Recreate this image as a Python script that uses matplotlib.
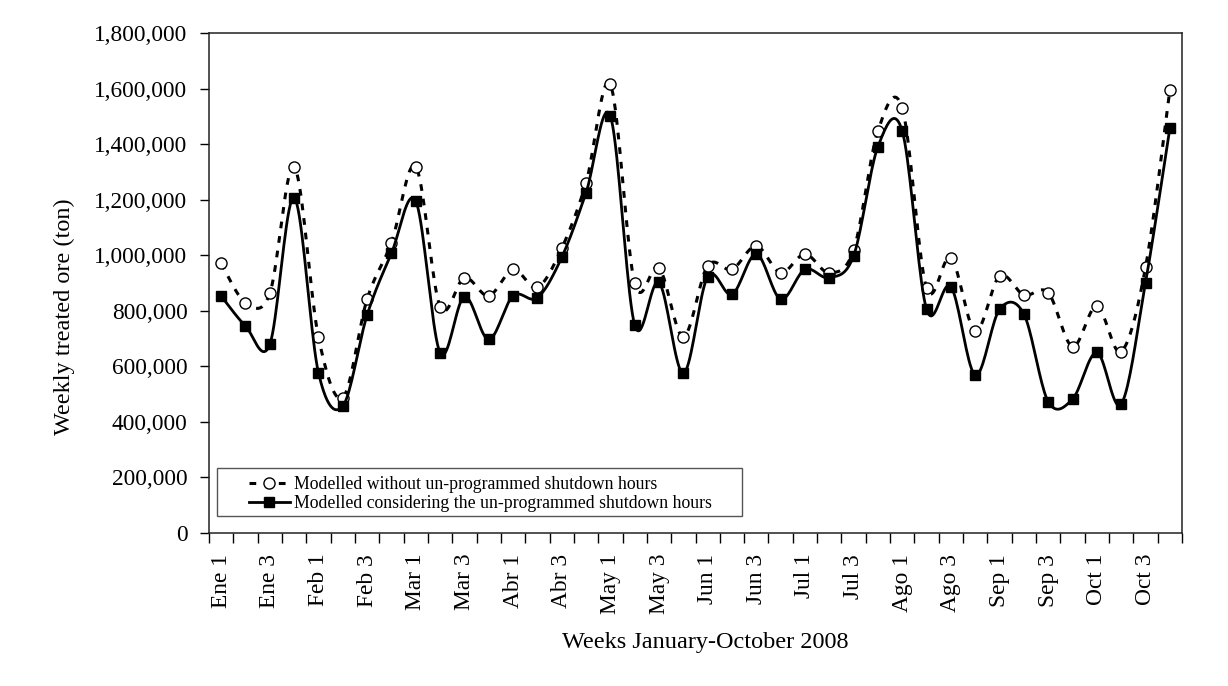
import numpy as np
import matplotlib
matplotlib.use("Agg")
import matplotlib.pyplot as plt
from matplotlib.ticker import FuncFormatter, FixedLocator
from matplotlib.patches import Rectangle

# ---- data ----
week_labels = ["Ene 1", "Ene 3", "Feb 1", "Feb 3", "Mar 1", "Mar 3", "Abr 1", "Abr 3",
               "May 1", "May 3", "Jun 1", "Jun 3", "Jul 1", "Jul 3", "Ago 1", "Ago 3",
               "Sep 1", "Sep 3", "Oct 1", "Oct 3"]
n_weeks = 40

without_shutdown = [971000, 829000, 863000, 1319000, 705000, 487000, 842000, 1045000,
                    1319000, 815000, 919000, 854000, 949000, 884000, 1025000, 1261000,
                    1615000, 899000, 955000, 707000, 962000, 949000, 1033000, 937000,
                    1004000, 937000, 1019000, 1448000, 1529000, 881000, 991000, 727000,
                    925000, 857000, 865000, 671000, 817000, 653000, 956000, 1595000]

with_shutdown = [853000, 745000, 679000, 1207000, 577000, 457000, 785000, 1007000,
                 1195000, 649000, 851000, 697000, 854000, 847000, 992000, 1225000,
                 1501000, 749000, 902000, 575000, 923000, 859000, 1004000, 842000,
                 949000, 919000, 998000, 1391000, 1447000, 805000, 887000, 569000,
                 805000, 788000, 473000, 482000, 650000, 464000, 901000, 1457000]

label_without = "Modelled without un-programmed shutdown hours"
label_with = "Modelled considering the un-programmed shutdown hours"


def smooth(x, y, steps=20):
    """Excel-like smoothed line (Catmull-Rom style Bezier)."""
    x = np.asarray(x, float)
    y = np.asarray(y, float)
    px = np.concatenate([[x[0]], x, [x[-1]]])
    py = np.concatenate([[y[0]], y, [y[-1]]])
    xs, ys = [], []
    t = np.linspace(0, 1, steps)
    for i in range(len(x) - 1):
        p0 = np.array([px[i + 1], py[i + 1]])
        p3 = np.array([px[i + 2], py[i + 2]])
        p1 = p0 + (np.array([px[i + 2], py[i + 2]]) - np.array([px[i], py[i]])) / 6.0
        p2 = p3 - (np.array([px[i + 3], py[i + 3]]) - np.array([px[i + 1], py[i + 1]])) / 6.0
        b = ((1 - t) ** 3)[:, None] * p0 + (3 * (1 - t) ** 2 * t)[:, None] * p1 \
            + (3 * (1 - t) * t ** 2)[:, None] * p2 + (t ** 3)[:, None] * p3
        if i > 0:
            b = b[1:]
        xs.append(b[:, 0])
        ys.append(b[:, 1])
    return np.concatenate(xs), np.concatenate(ys)


plt.rcParams['font.family'] = ['Liberation Serif', 'DejaVu Serif']

fig = plt.figure(figsize=(12.28, 6.86), dpi=100)
ax = fig.add_axes([209 / 1228, 1 - 533 / 686, (1182 - 209) / 1228, 500 / 686])

x = np.arange(n_weeks)

sx, sy = smooth(x, without_shutdown)
ax.plot(sx, sy, color='black', lw=2.2, dashes=(2.2, 2.6))
ax.plot(x, without_shutdown, linestyle='none', marker='o', markersize=8,
        markerfacecolor='white', markeredgecolor='black', markeredgewidth=1.0)

sx2, sy2 = smooth(x, with_shutdown)
ax.plot(sx2, sy2, color='black', lw=2.0)
ax.plot(x, with_shutdown, linestyle='none', marker='s', markersize=6.5,
        markerfacecolor='black', markeredgecolor='black')

# legend frame (Excel-style fixed box)
box_x0, box_y0 = (217 - 209) / 973, (533 - 516) / 500
box_w, box_h = (742 - 217) / 973, (516 - 468) / 500
ax.add_patch(Rectangle((box_x0, box_y0), box_w, box_h, transform=ax.transAxes,
                       facecolor='white', edgecolor='#555555', linewidth=1.0, zorder=4))

h1, = ax.plot([], [], color='black', lw=2.2, dashes=(2.2, 2.6), marker='o', markersize=8,
              markerfacecolor='white', markeredgecolor='black', markeredgewidth=1.0)
h2, = ax.plot([], [], color='black', lw=2.0, marker='s', markersize=6.5,
              markerfacecolor='black', markeredgecolor='black')
leg = ax.legend([h1, h2], [label_without, label_with], loc='center',
                bbox_to_anchor=(box_x0 + box_w / 2 + 0.001, box_y0 + box_h / 2 - 0.004),
                borderaxespad=0, fontsize=12.8, frameon=False, handlelength=2.3,
                labelspacing=0.12, borderpad=0.0, handletextpad=0.25)
leg.set_zorder(5)

ax.set_xlim(-0.5, n_weeks - 0.5)
ax.set_ylim(0, 1800000)
ax.set_yticks(np.arange(0, 1800001, 200000))
ax.yaxis.set_major_formatter(FuncFormatter(lambda v, p: f"{int(v):,}"))

ax.xaxis.set_major_locator(FixedLocator(np.arange(-0.5, n_weeks, 1.0)))
ax.xaxis.set_major_formatter(FuncFormatter(lambda v, p: ""))
ax.xaxis.set_minor_locator(FixedLocator(np.arange(0, n_weeks, 2)))
ax.set_xticklabels(week_labels, minor=True, rotation=90)
ax.tick_params(axis='x', which='minor', length=0, pad=15, labelsize=16.8)
ax.tick_params(axis='x', which='major', length=7.2, direction='out', width=1)
ax.tick_params(axis='y', length=6.5, direction='out', width=1, labelsize=16.8, pad=9)

for s in ax.spines.values():
    s.set_linewidth(1.1)
    s.set_color('#222222')

ax.set_ylabel("Weekly treated ore (ton)", fontsize=17.5)
ax.yaxis.set_label_coords((75 - 209) / 973, (533 - 317) / 500)
ax.set_xlabel("Weeks January-October 2008", fontsize=17.5)
ax.xaxis.set_label_coords((705 - 209) / 973, (533 - 632) / 500)

fig.savefig("out.png", dpi=100)
